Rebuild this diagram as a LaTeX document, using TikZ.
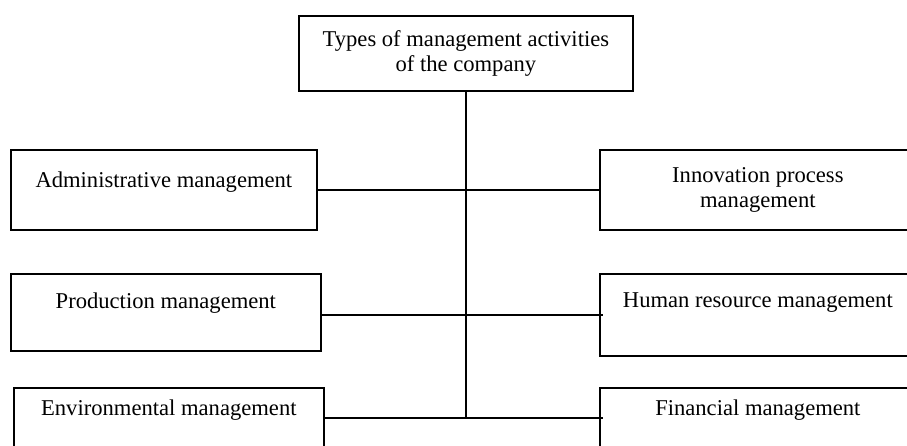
\documentclass[tikz,border=0pt]{standalone}
\usepackage{fontspec}
\setmainfont{Liberation Serif}
\usetikzlibrary{positioning,calc}

\begin{document}
\begin{tikzpicture}[x=1pt,y=-1pt,
  box/.style={draw,line width=1.7pt,rectangle,anchor=north west,inner sep=0pt},
  txt/.style={font=\fontsize{22.6}{25}\selectfont,align=center,inner sep=0pt},
  link/.style={line width=1.6pt}]

\useasboundingbox (0,0) rectangle (907,445);
\clip (0,0) rectangle (907,445);

%%%%%%%%%%%%%%%%%%%%%% TOP
\node[box,minimum width=334pt,minimum height=75pt] (types) at (298,15) {};
\node[txt] (typesT) at (types.center) {Types of management activities\\of the company};

%%%%%%%%%%%%%%%%%%%%%% LEFT
\node[box,minimum width=306pt,minimum height=80pt] (adm) at (10,149) {};
\node[txt] (admT) at ($(adm.north)+(0,33)$) {Administrative management};

\node[box,minimum width=310pt,minimum height=77pt] (prod) at (10,273) {};
\node[txt] (prodT) at ($(prod.north)+(0,30)$) {Production management};

\node[box,minimum width=310pt,minimum height=60pt] (env) at (13,387) {};
\node[txt] (envT) at ($(env.north)+(0,23)$) {Environmental management};

%%%%%%%%%%%%%%%%%%%%%% RIGHT
\node[box,minimum width=316pt,minimum height=80pt] (inno) at (599,149) {};
\node[txt] (innoT) at (inno.center) {Innovation process\\management};

\node[box,minimum width=316pt,minimum height=82pt] (hr) at (599,273) {};
\node[txt] (hrT) at ($(hr.north)+(0,30)$) {Human resource management};

\node[box,minimum width=316pt,minimum height=60pt] (fin) at (599,387) {};
\node[txt] (finT) at ($(fin.north)+(0,23)$) {Financial management};

%%%%%%%%%%%%%%%%%%%%%% LINKS
\draw[link] (types.south) -- (types.south |- env.east);
\draw[link] (adm.east) -- (inno.west);
\draw[link,shorten >=-4pt] (prod.east |- hr.west) -- (hr.west);
\draw[link,shorten >=-4pt] (env.east) -- (fin.west);

\end{tikzpicture}
\end{document}
